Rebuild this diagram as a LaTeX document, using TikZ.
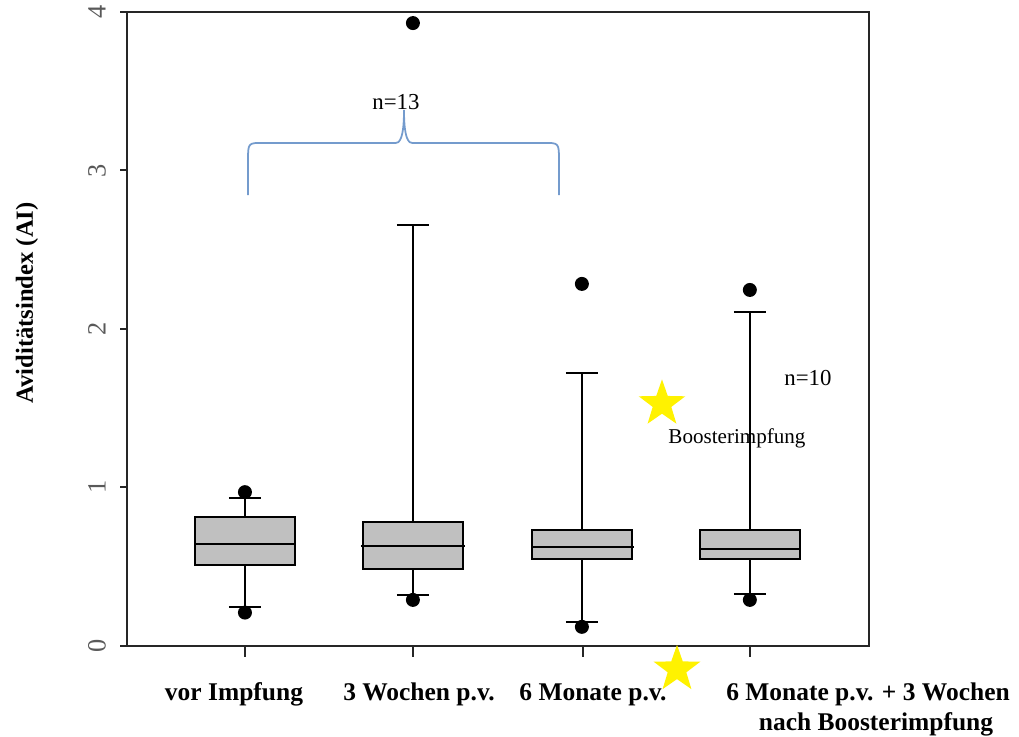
\documentclass[tikz,border=0pt]{standalone}
\usepackage{fontspec}
\setmainfont{Liberation Serif}
\usetikzlibrary{shapes.geometric}
\definecolor{boxgray}{RGB}{192,192,192}
\definecolor{bracecol}{RGB}{116,155,205}

\begin{document}
\begin{tikzpicture}[x=0.02cm,y=3.17cm,
  frame/.style={line width=1.1pt,black!85},
  boxbody/.style={fill=boxgray,draw=black,line width=1.25pt},
  whisker/.style={line width=1pt},
  ticklab/.style={font=\fontsize{15}{15}\selectfont,text=black!65,rotate=90},
  grouplab/.style={font=\bfseries\fontsize{14.5}{17}\selectfont,anchor=base},
  note/.style={font=\fontsize{13}{15}\selectfont},
  boostmark/.style={star,star points=5,star point ratio=2.5,fill=yellow,draw=none,
    minimum size=0.98cm,inner sep=0pt}]
  \useasboundingbox (0,-0.5741) rectangle (1019,4.0757);
  % axes
  \draw[frame] (127,0) rectangle (869,4);
  \draw[frame] (120,0) -- (127,0);
  \draw[frame] (120,1) -- (127,1);
  \draw[frame] (120,2) -- (127,2);
  \draw[frame] (120,3) -- (127,3);
  \draw[frame] (120,4) -- (127,4);
  \node[ticklab] (y0) at (97,0) {0};
  \node[ticklab] (y1) at (97,1) {1};
  \node[ticklab] (y2) at (97,2) {2};
  \node[ticklab] (y3) at (97,3) {3};
  \node[ticklab] (y4) at (97,4) {4};
  \draw[frame] (245,0) -- (245,-0.07);
  \draw[frame] (413,0) -- (413,-0.07);
  \draw[frame] (583,0) -- (583,-0.07);
  \draw[frame] (750,0) -- (750,-0.07);
  \node[font=\bfseries\fontsize{14}{14}\selectfont,rotate=90] (ylab) at (27,2.164) {Aviditätsindex (AI)};
  % boxes
  \begin{scope}[xshift=4.9cm]
    \draw[whisker] (0,0.246) -- (0,0.934) (-16,0.246) -- (16,0.246) (-16,0.934) -- (16,0.934);
    \draw[boxbody] (-50,0.511) rectangle (50,0.814);
    \draw[line width=1.25pt] (-50,0.644) -- (50,0.644);
    \fill (0,0.97) circle[radius=0.14cm];
    \fill (0,0.21) circle[radius=0.14cm];
  \end{scope}
  \begin{scope}[xshift=8.26cm]
    \draw[whisker] (0,0.322) -- (0,2.656) (-16,0.322) -- (16,0.322) (-16,2.656) -- (16,2.656);
    \draw[boxbody] (-50,0.486) rectangle (50,0.78);
    \draw[line width=1.25pt] (-52,0.631) -- (52,0.631);
    \fill (0,0.29) circle[radius=0.14cm];
    \fill (0,3.93) circle[radius=0.14cm];
  \end{scope}
  \begin{scope}[xshift=11.64cm]
    \draw[whisker] (0,0.151) -- (0,1.722) (-16,0.151) -- (16,0.151) (-16,1.722) -- (16,1.722);
    \draw[boxbody] (-50,0.549) rectangle (50,0.732);
    \draw[line width=1.25pt] (-50,0.625) -- (52,0.625);
    \fill (0,0.12) circle[radius=0.14cm];
    \fill (0,2.284) circle[radius=0.14cm];
  \end{scope}
  \begin{scope}[xshift=15cm]
    \draw[whisker] (0,0.328) -- (0,2.107) (-16,0.328) -- (16,0.328) (-16,2.107) -- (16,2.107);
    \draw[boxbody] (-50,0.549) rectangle (50,0.732);
    \draw[line width=1.25pt] (-50,0.612) -- (50,0.612);
    \fill (0,0.29) circle[radius=0.14cm];
    \fill (0,2.246) circle[radius=0.14cm];
  \end{scope}
  % brace over the first three groups
  \draw[bracecol,line width=1pt] (248,2.845) -- (248,3.06) .. controls (248,3.174) .. (263,3.174)
    -- (396,3.174) .. controls (402,3.174) and (404,3.26) .. (404,3.382)
    .. controls (404,3.26) and (406,3.174) .. (412,3.174) -- (544,3.174)
    .. controls (559,3.174) .. (559,3.06) -- (559,2.845);
  \node[note] (nfirst) at (396,3.43) {n=13};
  \node[note] (nboost) at (808,1.691) {n=10};
  \node[font=\fontsize{12}{14}\selectfont] (booster) at (737,1.31) {Boosterimpfung};
  \node[boostmark] (star1) at (662,1.527) {};
  \node[boostmark] (star2) at (677,-0.148) {};
  % group labels
  \node[grouplab] (g1) at (234,-0.347) {vor Impfung};
  \node[grouplab] (g2) at (419,-0.347) {3 Wochen p.v.};
  \node[grouplab] (g3) at (593,-0.347) {6 Monate p.v.};
  \node[grouplab] (g4) at (868,-0.347) {6 Monate p.v. + 3 Wochen};
  \node[grouplab] (g4b) at (876,-0.536) {nach Boosterimpfung};
\end{tikzpicture}
\end{document}
